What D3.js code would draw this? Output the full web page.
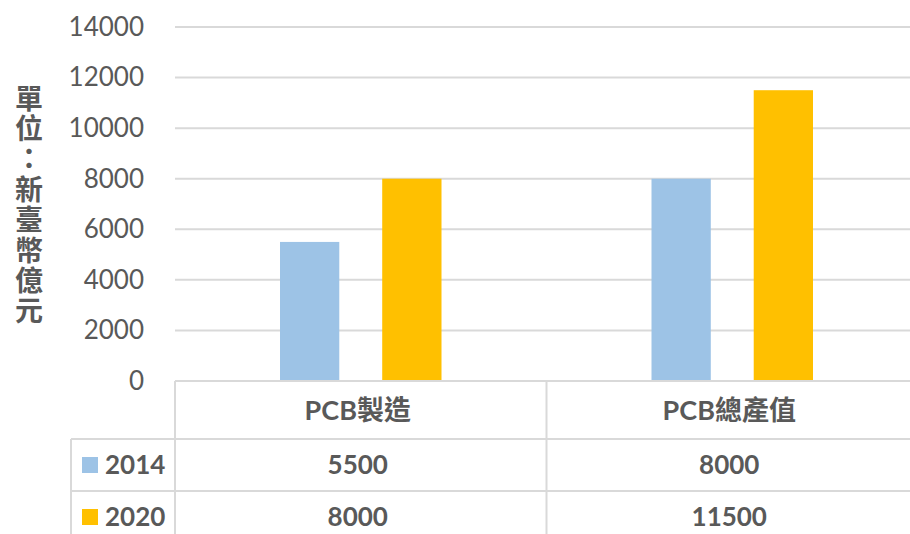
<!DOCTYPE html>
<html>
<head>
<meta charset="utf-8">
<script src="https://cdn.jsdelivr.net/npm/d3@7"></script>
<style>
  body { margin: 0; background: #fff; }
  svg { display: block; font-family: Lato, "Noto Sans CJK TC", sans-serif; }
</style>
</head>
<body>
<svg id="chart" width="910" height="534"></svg>
<script>
// data
const categories = ["PCB製造", "PCB總產值"];
const seriesNames = ["2014", "2020"];
const values2014 = [5500, 8000];
const values2020 = [8000, 11500];
const yTicks = [0, 2000, 4000, 6000, 8000, 10000, 12000, 14000];
const yTitle = "單位：新臺幣億元";
const colors = ["#9DC3E6", "#FFC000"];

const series = [values2014, values2020];

const svg = d3.select("#chart");
const width = 910, height = 534;
const plotLeft = 175, plotRight = 918, plotTop = 27, plotBottom = 381;
const textColor = "#595959", lineColor = "#d9d9d9";

const x0 = d3.scaleBand().domain(categories).range([plotLeft, plotRight]);
const x1 = d3.scaleBand().domain(seriesNames).range([105, x0.bandwidth() - 105]).paddingInner(0.42);
const y = d3.scaleLinear().domain([0, 14000]).range([plotBottom, plotTop]);

// gridlines
svg.append("g")
  .selectAll("line")
  .data(yTicks.filter(d => d > 0))
  .join("line")
  .attr("x1", plotLeft).attr("x2", width)
  .attr("y1", d => y(d)).attr("y2", d => y(d))
  .attr("stroke", lineColor).attr("stroke-width", 2);

// y axis labels
const yAxis = svg.append("g")
  .attr("transform", `translate(144,0)`)
  .call(d3.axisLeft(y).tickValues(yTicks).tickSize(0).tickPadding(0).tickFormat(d3.format("d")));
yAxis.select(".domain").remove();
yAxis.selectAll("text")
  .attr("fill", textColor)
  .style("font-size", "26px")
  .style("font-family", "Lato, sans-serif");

// bars
const groups = svg.append("g")
  .selectAll("g")
  .data(categories)
  .join("g")
  .attr("transform", d => `translate(${x0(d)},0)`);

groups.selectAll("rect")
  .data((c, i) => seriesNames.map((s, j) => ({ s, v: series[j][i], j })))
  .join("rect")
  .attr("x", d => x1(d.s))
  .attr("width", x1.bandwidth())
  .attr("y", d => y(d.v))
  .attr("height", d => y(0) - y(d.v))
  .attr("fill", d => colors[d.j]);

// y title, vertical writing
svg.append("text")
  .attr("x", 28)
  .attr("y", 84)
  .attr("fill", textColor)
  .style("writing-mode", "vertical-rl")
  .style("text-orientation", "upright")
  .style("letter-spacing", "2.4px")
  .style("font-size", "28px")
  .style("font-weight", "700")
  .text(yTitle);

// data table
const legendLeft = 71, headTop = 381, row1Top = 439, row2Top = 491;
const tbl = svg.append("g").attr("stroke", lineColor).attr("stroke-width", 2);
tbl.append("line").attr("x1", plotLeft).attr("x2", width).attr("y1", headTop).attr("y2", headTop);
tbl.append("line").attr("x1", legendLeft).attr("x2", width).attr("y1", row1Top).attr("y2", row1Top);
tbl.append("line").attr("x1", legendLeft).attr("x2", width).attr("y1", row2Top).attr("y2", row2Top);
tbl.append("line").attr("x1", legendLeft).attr("x2", legendLeft).attr("y1", row1Top).attr("y2", height);
categories.forEach(c => {
  tbl.append("line").attr("x1", x0(c)).attr("x2", x0(c)).attr("y1", headTop).attr("y2", height);
});

// header labels
svg.append("g")
  .selectAll("text")
  .data(categories)
  .join("text")
  .attr("x", d => x0(d) + x0.bandwidth() / 2 - 3)
  .attr("y", (headTop + row1Top) / 2)
  .attr("dy", "0.36em")
  .attr("text-anchor", "middle")
  .attr("fill", textColor)
  .style("font-size", "27px")
  .style("font-weight", "700")
  .text(d => d);

// rows
const rowTops = [row1Top, row2Top];
seriesNames.forEach((s, j) => {
  const cy = rowTops[j] + 26;
  svg.append("rect")
    .attr("x", 82).attr("y", cy - 8)
    .attr("width", 16).attr("height", 16)
    .attr("fill", colors[j]);
  svg.append("text")
    .attr("x", 105).attr("y", cy)
    .attr("dy", "0.36em")
    .attr("fill", textColor)
    .style("font-size", "26px")
    .style("font-weight", "700")
    .text(s);
  svg.append("g")
    .selectAll("text")
    .data(categories)
    .join("text")
    .attr("x", d => x0(d) + x0.bandwidth() / 2 - 3)
    .attr("y", cy)
    .attr("dy", "0.36em")
    .attr("text-anchor", "middle")
    .attr("fill", textColor)
    .style("font-size", "26px")
    .style("font-weight", "700")
    .text((d, i) => series[j][i]);
});
</script>
</body>
</html>
